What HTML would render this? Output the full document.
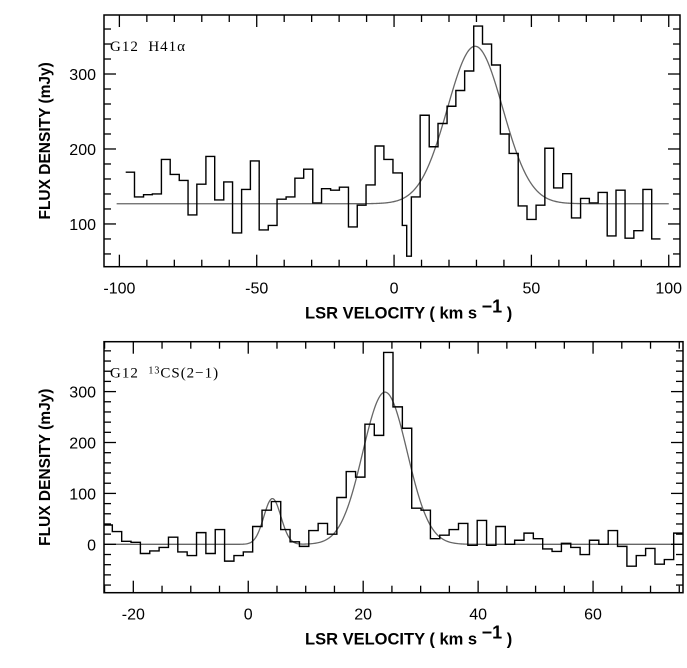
<!DOCTYPE html>
<html><head><meta charset="utf-8"><style>
html,body{margin:0;padding:0;background:#fff;}
svg{display:block;}
text{font-family:"Liberation Sans",Arial,sans-serif;}
</style></head><body>
<svg id="chart" width="687" height="668" viewBox="0 0 687 668" xmlns="http://www.w3.org/2000/svg"></svg>
<script>
// ---- Top panel data (G12 H41alpha) ----
const topEdges = [-97.7,-94.5,-91.2,-88.0,-84.7,-81.5,-78.2,-75.0,-71.8,-68.5,-65.3,-62.0,-58.8,-55.5,-52.3,-49.1,-45.8,-42.6,-39.3,-36.1,-32.9,-29.6,-26.4,-23.1,-19.9,-16.6,-13.4,-10.2,-6.9,-3.7,-0.4,3.0,4.6,6.3,9.5,12.8,16.0,19.3,22.5,25.7,29.0,32.2,35.5,38.7,41.9,45.2,48.4,51.7,54.9,58.1,61.4,64.6,67.9,71.1,74.3,77.6,80.8,84.1,87.3,90.6,93.8,97.0];
const topFlux = [169,136,139,140,186,166,158,112,153,190,132,156,88,146,184,92,98,133,136,161,173,128,147,145,149,96,125,152,204,186,168,98,57,136,245,203,234,257,278,304,364,340,312,220,194,124,106,125,201,148,167,108,134,128,142,84,145,81,91,146,80];
const topFit = {base:127, amp:210, center:29.5, fwhm:23.7, from:-101, to:100};
const topXTicks = [-100,-50,0,50,100];
const topYTicks = [100,200,300];

// ---- Bottom panel data (G12 13CS(2-1)) ----
const botStart = -25.28;
const botWidth = 1.628;
const botFlux = [38,25,6,4,-18,-13,-6,14,-15,-22,23,-18,29,-33,-22,-15,35,67,84,29,5,-4,27,41,20,92,143,132,236,214,377,270,228,71,67,11,18,29,41,-2,47,-2,35,0,8,22,11,-9,-14,2,-6,-20,8,0,27,-4,-43,-22,-8,-39,-30,22];
const botFit1 = {amp:90, center:4.2, fwhm:3.5};
const botFit2 = {amp:299, center:23.8, fwhm:9.1};
const botXTicks = [-20,0,20,40,60];
const botYTicks = [0,100,200,300];

const NS="http://www.w3.org/2000/svg";
const svg=document.getElementById('chart');
function mk(tag,attrs,parent){const e=document.createElementNS(NS,tag);for(const k in attrs)e.setAttribute(k,attrs[k]);(parent||svg).appendChild(e);return e;}

function panel(cfg){
  const g=mk('g',{});
  
  
  const sx=v=>cfg.L+(v-cfg.x0)/(cfg.x1-cfg.x0)*(cfg.R-cfg.L);
  const sy=v=>cfg.B-(v-cfg.y0)/(cfg.y1-cfg.y0)*(cfg.B-cfg.T);
  const cid='clip-'+cfg.name;
  const cp=mk('clipPath',{id:cid},g);
  mk('rect',{x:cfg.L,y:cfg.T,width:cfg.R-cfg.L,height:cfg.B-cfg.T},cp);
  const plot=mk('g',{'clip-path':'url(#'+cid+')'},g);
  let d='';
  for(let v=cfg.fitFrom;v<=cfg.fitTo+1e-9;v+=0.2){d+=(d?'L':'M')+sx(v).toFixed(2)+','+sy(cfg.fit(v)).toFixed(2);}
  const fit=mk('path',{d:d,fill:'none',stroke:'#666','stroke-width':1.3},plot);
  
  
  let h='';
  for(let i=0;i<cfg.vals.length;i++){
    const a=sx(cfg.edges[i]),b=sx(cfg.edges[i+1]),y=sy(cfg.vals[i]);
    h+=(i?'L':'M')+a.toFixed(2)+','+y.toFixed(2)+'L'+b.toFixed(2)+','+y.toFixed(2);
  }
  const hist=mk('path',{d:h,fill:'none',stroke:'#000','stroke-width':1.4},plot);
  
  
  const fr=mk('rect',{x:cfg.L,y:cfg.T,width:cfg.R-cfg.L,height:cfg.B-cfg.T,fill:'none',stroke:'#000','stroke-width':1.5},g);
  
  
  for(let v=Math.ceil(cfg.x0/cfg.xMinor)*cfg.xMinor;v<=cfg.x1;v+=cfg.xMinor){
    const major=Math.abs(v/cfg.xMajor-Math.round(v/cfg.xMajor))<1e-6;
    const len=major?12:7,x=sx(v);
    mk('line',{x1:x,x2:x,y1:cfg.B,y2:cfg.B-len,stroke:'#000','stroke-width':1.3},g);
    mk('line',{x1:x,x2:x,y1:cfg.T,y2:cfg.T+len,stroke:'#000','stroke-width':1.3},g);
  }
  for(const v of cfg.xTicks){
    const t=mk('text',{x:sx(v),y:cfg.B+27,'text-anchor':'middle','font-size':16},g);
    t.textContent=v<0?'-'+Math.abs(v):String(v);
    
    
  }
  for(let v=Math.ceil(cfg.y0/cfg.yMinor)*cfg.yMinor;v<=cfg.y1;v+=cfg.yMinor){
    const major=Math.abs(v/cfg.yMajor-Math.round(v/cfg.yMajor))<1e-6;
    const len=major?12:7,y=sy(v);
    mk('line',{x1:cfg.L,x2:cfg.L+len,y1:y,y2:y,stroke:'#000','stroke-width':1.3},g);
    mk('line',{x1:cfg.R,x2:cfg.R-len,y1:y,y2:y,stroke:'#000','stroke-width':1.3},g);
  }
  for(const v of cfg.yTicks){
    const t=mk('text',{x:96,y:sy(v)+6,'text-anchor':'end','font-size':16},g);
    t.textContent=String(v);
    
    
  }
  const yc=(cfg.T+cfg.B)/2;
  const yt=mk('text',{x:0,y:0,transform:'translate(50,'+yc+') rotate(-90)','text-anchor':'middle','font-size':15.5,'font-weight':'bold'},g);
  yt.textContent='FLUX DENSITY (mJy)';
  
  
  const xt=mk('text',{x:305,y:cfg.B+52,'font-size':16.5,'font-weight':'bold'},g);
  xt.innerHTML='LSR VELOCITY ( km s <tspan dy="-6" font-size="18">−1</tspan><tspan dy="6"> )</tspan>';
  
  
  const lb=mk('text',{x:110,y:cfg.T+36,'font-size':15,'letter-spacing':'1',style:'font-family:"Liberation Serif",serif'},g);
  lb.innerHTML=cfg.label;
  
  
}

const gauss=(p,v)=>p.amp*Math.exp(-4*Math.LN2*Math.pow((v-p.center)/p.fwhm,2));

panel({name:'h41alpha-panel',L:104,R:680,T:15,B:266.7,x0:-105.6,x1:104.1,y0:43,y1:378.7,
  xMinor:10,xMajor:50,yMinor:20,yMajor:100,xTicks:topXTicks,yTicks:topYTicks,
  edges:topEdges,vals:topFlux,fitFrom:topFit.from,fitTo:topFit.to,
  fit:v=>topFit.base+gauss(topFit,v),label:'G12&#160;&#160;H41&#945;'});

const botEdges=[];for(let i=0;i<=botFlux.length;i++)botEdges.push(botStart+i*botWidth);
panel({name:'cs13-panel',L:104,R:683,T:341.7,B:592.7,x0:-25.1,x1:75.65,y0:-95,y1:398,
  xMinor:5,xMajor:20,yMinor:20,yMajor:100,xTicks:botXTicks,yTicks:botYTicks,
  edges:botEdges,vals:botFlux,fitFrom:-25.1,fitTo:75.65,
  fit:v=>gauss(botFit1,v)+gauss(botFit2,v),label:'G12&#160;&#160;<tspan font-size="10" dy="-4">13</tspan><tspan dy="4">CS(2−1)</tspan>'});
</script>
</body></html>
